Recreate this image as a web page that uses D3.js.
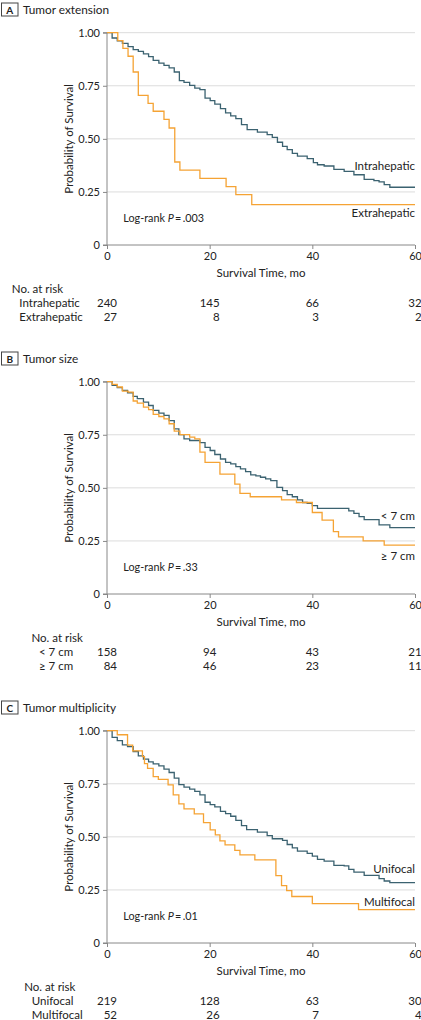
<!DOCTYPE html>
<html>
<head>
<meta charset="utf-8">
<script src="https://cdn.jsdelivr.net/npm/d3@7"></script>
<style>
  html, body { margin: 0; padding: 0; background: #fff; }
  svg { display: block; font-family: Lato, "Open Sans", sans-serif; }
</style>
</head>
<body>
<svg id="chart" width="421" height="1020"></svg>
<script>
// ---------- DATA ----------
const panelLetters = ["A", "B", "C"];
const panelTitles = ["Tumor extension", "Tumor size", "Tumor multiplicity"];
const groupNames = [["Intrahepatic", "Extrahepatic"], ["< 7 cm", "≥ 7 cm"], ["Unifocal", "Multifocal"]];
const pValues = [".003", ".33", ".01"];
const timeTicks = [0, 20, 40, 60];
const survTicks = [0, 0.25, 0.5, 0.75, 1];
const survTickLabels = ["0", "0.25", "0.50", "0.75", "1.00"];
const riskTimes = [0, 20, 40, 60];

const riskIntrahepatic = [240, 145, 66, 32];
const riskExtrahepatic = [27, 8, 3, 2];
const riskSmall = [158, 94, 43, 21];
const riskLarge = [84, 46, 23, 11];
const riskUnifocal = [219, 128, 63, 30];
const riskMultifocal = [52, 26, 7, 4];

// Kaplan-Meier step points [month, survival]
const kmIntrahepatic = [[0,1],[1.0,0.975],[2.0,0.962],[3.0,0.950],[4.1,0.934],[5.1,0.920],[6.1,0.912],[7.1,0.900],[8.1,0.887],[9.0,0.870],[10.1,0.857],[11.1,0.846],[12.1,0.834],[13.1,0.815],[14.1,0.774],[15.0,0.766],[16.1,0.752],[17.1,0.739],[18.1,0.732],[19.1,0.692],[20.1,0.680],[21.0,0.664],[22.1,0.642],[23.1,0.622],[24.1,0.608],[25.1,0.595],[26.2,0.567],[27.3,0.543],[29.3,0.532],[31.2,0.520],[32.2,0.507],[33.2,0.484],[34.2,0.465],[35.1,0.449],[36.1,0.432],[37.1,0.419],[39.0,0.407],[40.2,0.388],[41.0,0.378],[42.3,0.372],[44.2,0.356],[46.2,0.347],[48.1,0.331],[50.1,0.309],[52.0,0.303],[53.0,0.297],[54.0,0.284],[55.1,0.272]];
const kmExtrahepatic = [[0,1],[2.1,0.963],[3.1,0.926],[4.1,0.889],[5.1,0.815],[6.1,0.705],[8.0,0.667],[9.0,0.630],[11.1,0.592],[12.1,0.551],[13.2,0.391],[14.2,0.353],[18.1,0.314],[23.2,0.275],[25.1,0.237],[28.2,0.190]];
const kmSmall = [[0,1],[1.0,0.983],[2.0,0.972],[3.0,0.959],[4.0,0.948],[5.1,0.931],[5.9,0.920],[7.1,0.904],[8.1,0.888],[9.0,0.865],[10.1,0.852],[11.1,0.841],[12.1,0.817],[13.1,0.778],[14.0,0.751],[15.0,0.731],[16.1,0.723],[18.1,0.713],[19.1,0.691],[20.1,0.676],[21.0,0.657],[22.1,0.636],[23.1,0.620],[24.1,0.613],[25.1,0.600],[26.0,0.589],[27.0,0.576],[28.0,0.561],[29.0,0.556],[29.9,0.550],[30.9,0.542],[31.9,0.534],[33.1,0.502],[34.2,0.487],[35.1,0.468],[36.1,0.458],[37.1,0.443],[38.1,0.431],[39.0,0.427],[40.0,0.416],[41.0,0.403],[47.1,0.392],[48.1,0.380],[49.1,0.364],[50.1,0.350],[53.0,0.326],[55.1,0.313]];
const kmLarge = [[0,1],[1.0,0.987],[2.0,0.975],[3.0,0.956],[4.1,0.951],[5.1,0.909],[5.9,0.899],[7.1,0.880],[8.1,0.868],[9.0,0.846],[10.1,0.836],[11.1,0.825],[12.1,0.802],[13.1,0.767],[14.2,0.751],[16.1,0.739],[17.1,0.731],[18.1,0.668],[19.1,0.620],[22.0,0.565],[24.9,0.518],[25.9,0.474],[27.9,0.458],[34.0,0.443],[36.9,0.431],[40.0,0.384],[41.9,0.348],[44.1,0.294],[45.1,0.269],[49.9,0.250],[54.0,0.230]];
const kmUnifocal = [[0,1],[1.0,0.969],[2.0,0.953],[3.0,0.933],[4.0,0.925],[5.1,0.902],[6.1,0.881],[7.1,0.866],[8.1,0.853],[9.0,0.844],[10.1,0.834],[11.1,0.819],[12.1,0.803],[13.1,0.777],[14.0,0.746],[15.0,0.734],[16.1,0.725],[17.1,0.714],[18.1,0.698],[19.1,0.663],[20.1,0.652],[21.0,0.641],[22.1,0.620],[23.1,0.609],[24.1,0.597],[25.1,0.578],[26.2,0.553],[27.2,0.534],[29.3,0.522],[31.2,0.506],[32.2,0.491],[34.2,0.483],[35.1,0.464],[36.1,0.448],[37.1,0.433],[39.0,0.422],[40.0,0.409],[41.0,0.394],[42.3,0.386],[44.2,0.366],[46.2,0.363],[47.1,0.347],[48.1,0.334],[50.1,0.319],[53.0,0.303],[54.0,0.292],[55.1,0.284]];
const kmMultifocal = [[0,1],[2.0,0.981],[4.0,0.932],[5.0,0.905],[6.9,0.878],[7.3,0.845],[7.9,0.823],[9.0,0.784],[10.0,0.771],[11.9,0.745],[12.9,0.698],[14.0,0.655],[15.0,0.632],[17.0,0.608],[18.8,0.567],[20.1,0.533],[21.1,0.509],[22.0,0.481],[23.0,0.462],[24.9,0.436],[25.9,0.415],[28.8,0.392],[32.9,0.317],[34.0,0.270],[35.0,0.247],[36.0,0.219],[40.0,0.185],[49.0,0.157]];

const curveSets = [[kmIntrahepatic, kmExtrahepatic], [kmSmall, kmLarge], [kmUnifocal, kmMultifocal]];
const riskSets = [[riskIntrahepatic, riskExtrahepatic], [riskSmall, riskLarge], [riskUnifocal, riskMultifocal]];

// ---------- LAYOUT ----------
const panelStep = 349;
const plotLeft = 107, plotRight = 415, plotTop = 32.7, plotBottom = 245;
const groupLabelY = [[0.354, 0.134], [0.348, 0.162], [0.332, 0.175]];
const riskLabelX = [19.3, 39, 31.7];
const colors = ["#3b6270", "#f5a334"];
const textColor = "#222";
const fs = 11.5;

const svg = d3.select("#chart");
const x = d3.scaleLinear().domain([0, 60]).range([plotLeft, plotRight]);
const y = d3.scaleLinear().domain([0, 1]).range([plotBottom, plotTop]);

const line = d3.line().x(d => x(d[0])).y(d => y(d[1])).curve(d3.curveStepAfter);

panelLetters.forEach((letter, i) => {
  const g = svg.append("g").attr("transform", `translate(0,${i * panelStep})`);

  // Title
  g.append("rect").attr("x", 1.5).attr("y", 3).attr("width", 16.5).attr("height", 13)
    .attr("fill", "none").attr("stroke", "#444").attr("stroke-width", 1);
  g.append("text").attr("x", 9.75).attr("y", 13.5).attr("text-anchor", "middle")
    .attr("font-size", 10).attr("font-weight", "bold").attr("fill", textColor).text(letter);
  g.append("text").attr("x", 23).attr("y", 13.5).attr("font-size", 11.8)
    .attr("fill", textColor).text(panelTitles[i]);

  // Gridlines
  g.append("g").selectAll("line").data(survTicks.filter(v => v > 0)).join("line")
    .attr("x1", plotLeft).attr("x2", plotRight)
    .attr("y1", d => y(d)).attr("y2", d => y(d))
    .attr("stroke", "#dcdcdc").attr("stroke-width", 1);

  // Y axis
  const yAxis = d3.axisLeft(y).tickValues(survTicks)
    .tickFormat((d, k) => survTickLabels[k]).tickSize(4).tickPadding(3);
  const ya = g.append("g").attr("transform", `translate(${plotLeft},0)`).call(yAxis);
  ya.select(".domain").attr("stroke", "#888").attr("d", `M-4,${plotTop}H0V${plotBottom}H-4`);
  ya.selectAll(".tick line").attr("stroke", "#888");
  ya.selectAll(".tick text").attr("font-size", 11).attr("fill", textColor).attr("font-family", "Lato, sans-serif");

  // X axis
  const xAxis = d3.axisBottom(x).tickValues(timeTicks).tickSize(4).tickPadding(3);
  const xa = g.append("g").attr("transform", `translate(0,${plotBottom})`).call(xAxis);
  xa.select(".domain").attr("stroke", "#888").attr("d", `M${plotLeft},0H${plotRight}`);
  xa.selectAll(".tick line").attr("stroke", "#888");
  xa.selectAll(".tick text").attr("font-size", 11).attr("fill", textColor).attr("font-family", "Lato, sans-serif");

  // Axis titles
  g.append("text").attr("x", (plotLeft + plotRight) / 2).attr("y", 277.3)
    .attr("text-anchor", "middle").attr("font-size", fs).attr("fill", textColor)
    .text("Survival Time, mo");
  g.append("text").attr("transform", `translate(72.5,${(plotTop + plotBottom) / 2}) rotate(-90)`)
    .attr("text-anchor", "middle").attr("font-size", fs).attr("fill", textColor)
    .text("Probability of Survival");

  // Curves
  curveSets[i].forEach((pts, s) => {
    const last = pts[pts.length - 1];
    const full = pts.concat([[60, last[1]]]);
    g.append("path").datum(full).attr("d", line)
      .attr("fill", "none").attr("stroke", colors[s]).attr("stroke-width", 1.3);
  });

  // Group labels
  groupNames[i].forEach((name, s) => {
    g.append("text").attr("x", plotRight).attr("y", y(groupLabelY[i][s]))
      .attr("text-anchor", "end").attr("font-size", fs).attr("fill", textColor).text(name);
  });

  // Log-rank
  const lr = g.append("text").attr("x", 123.3).attr("y", 222.3).attr("font-size", 10.8).attr("fill", textColor);
  lr.append("tspan").text("Log-rank ");
  lr.append("tspan").attr("font-style", "italic").text("P");
  lr.append("tspan").text("\u2009=\u2009" + pValues[i]);

  // Risk table
  const rowY = [306.7, 321];
  g.append("text").attr("x", riskLabelX[i] - 7.5).attr("y", 293.3).attr("font-size", fs)
    .attr("fill", textColor).text("No. at risk");
  groupNames[i].forEach((name, s) => {
    g.append("text").attr("x", riskLabelX[i]).attr("y", rowY[s]).attr("font-size", fs)
      .attr("fill", textColor).text(name);
  });
  // column anchors: widest entry centered on tick, others right-aligned to it
  riskTimes.forEach((t, c) => {
    const texts = riskSets[i].map((row, s) =>
      g.append("text").attr("y", rowY[s]).attr("font-size", fs).attr("fill", textColor)
        .attr("text-anchor", "end").text(row[c]));
    const maxW = d3.max(texts, tx => tx.node().getComputedTextLength());
    texts.forEach(tx => tx.attr("x", x(t) + maxW / 2));
  });
});
</script>
</body>
</html>
